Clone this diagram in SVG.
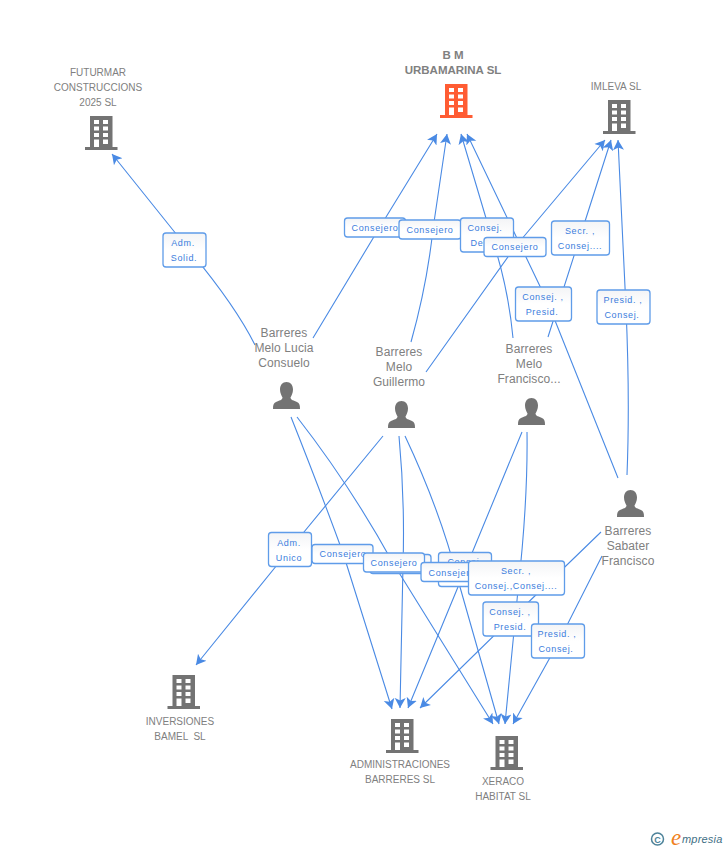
<svg xmlns="http://www.w3.org/2000/svg" width="728" height="850" viewBox="0 0 728 850">
<style>
text{font-family:"Liberation Sans",Arial,sans-serif}
.n{font-size:10px;fill:#808080;text-anchor:middle;white-space:pre}
.p{font-size:12px;fill:#808080;text-anchor:middle;letter-spacing:.1px}
.b{font-size:11.500px;font-weight:bold;fill:#808080;text-anchor:middle}
.l{font-size:9px;fill:#3b7ddd;text-anchor:middle;letter-spacing:.65px}
.e{fill:none;stroke:#4a8ae4;stroke-width:1.1;marker-end:url(#a)}
.r{fill:url(#g);stroke:#5f9ce9;stroke-width:1.3}
</style>
<defs>
<linearGradient id="g" x1="0" y1="0" x2="0" y2="1"><stop offset="0" stop-color="#f3f4f6"/><stop offset=".5" stop-color="#ffffff"/></linearGradient>
<marker id="a" markerUnits="userSpaceOnUse" markerWidth="14" markerHeight="14" refX="10" refY="6" orient="auto"><path d="M10,6 L0,0.500 L2.500,6 L0,11.500 Z" fill="#4a8ae4"/></marker>
<path id="bld" fill-rule="evenodd" d="M0,0H22.500V31H27.500V34H-5V31H0ZM4,4V8H9V4ZM13,4V8H18V4ZM4,10.500V14.500H9V10.500ZM13,10.500V14.500H18V10.500ZM4,17V21H9V17ZM13,17V21H18V17ZM4,23.500V31H9V23.500ZM13,23.500V28H18V23.500Z"/>
<path id="per" d="M13.500,0C17.500,0 20,3 20,7.500C20,11 18.500,13.500 17.500,15.500C17.500,18 21,18.500 24,20C26.500,21 27,23 27,27H0C0,23 .5,21 3,20C6,18.500 9.500,18 9.500,15.500C8.500,13.500 7,11 7,7.500C7,3 9.500,0 13.500,0Z"/>
</defs>
<g id="connectors">
<path class="e" d="M255,345 Q235,305 189,250 L112,154"/>
<path class="e" d="M313,338 L375,235 L437,134"/>
<path class="e" d="M411,342 Q427,285 433,229 L447,134"/>
<path class="e" d="M513,338 Q508,285 491,235 L461,134"/>
<path class="e" d="M618,478 Q585,395 548,303 L467,134"/>
<path class="e" d="M426,372 L515,247 L605,140"/>
<path class="e" d="M548,337 L580,237 L611,140"/>
<path class="e" d="M627,475 Q630,400 626,308 L618,140"/>
<path class="e" d="M383,436 L290,549 L196,665"/>
<path class="e" d="M291,417 Q320,490 343,553 L392,709"/>
<path class="e" d="M297,417 Q350,485 393,563 L493,724"/>
<path class="e" d="M399,436 Q405,500 403,565 L400,708"/>
<path class="e" d="M405,436 Q440,510 458,580 L499,724"/>
<path class="e" d="M522,432 L465,570 L408,708"/>
<path class="e" d="M527,432 Q528,500 518,590 L505,724"/>
<path class="e" d="M601,532 L510,620 L420,708"/>
<path class="e" d="M602,556 L557,645 L513,724"/>
</g>
<g id="edge-labels">
<rect class="r" x="163" y="233" width="43" height="34" rx="3"/><text class="l" x="183" y="246">Adm.</text><text class="l" x="184" y="261">Solid.</text>
<rect class="r" x="344.500" y="218" width="61" height="19" rx="3"/><text class="l" x="375" y="231">Consejero</text>
<rect class="r" x="399" y="220" width="62" height="19" rx="3"/><text class="l" x="430" y="233">Consejero</text>
<rect class="r" x="460.500" y="218" width="53" height="34" rx="3"/><text class="l" x="485" y="231">Consej.</text><text class="l" x="477" y="246">De</text>
<rect class="r" x="484" y="237.500" width="62" height="19" rx="3"/><text class="l" x="515" y="250">Consejero</text>
<rect class="r" x="551.500" y="221" width="58" height="34" rx="3"/><text class="l" x="580" y="234">Secr. ,</text><text class="l" x="580" y="249">Consej....</text>
<rect class="r" x="515.500" y="287" width="56" height="34" rx="3"/><text class="l" x="543" y="300">Consej. ,</text><text class="l" x="542" y="315">Presid.</text>
<rect class="r" x="597" y="290" width="53" height="34" rx="3"/><text class="l" x="623" y="303">Presid. ,</text><text class="l" x="622" y="318">Consej.</text>
<rect class="r" x="268.500" y="532.500" width="43" height="34" rx="3"/><text class="l" x="289" y="546">Adm.</text><text class="l" x="289" y="561">Unico</text>
<rect class="r" x="312" y="544.500" width="61" height="19" rx="3"/><text class="l" x="343" y="557">Consejero</text>
<rect class="r" x="370" y="554.500" width="61" height="19" rx="3"/>
<rect class="r" x="363.500" y="553" width="61" height="19" rx="3"/><text class="l" x="394" y="566">Consejero</text>
<rect class="r" x="438.500" y="552.500" width="53" height="34" rx="3"/><text class="l" x="465" y="565">Consej.</text>
<rect class="r" x="421" y="562.500" width="62" height="19" rx="3"/><text class="l" x="452" y="576">Consejero</text>
<rect class="r" x="468.500" y="561" width="96" height="34" rx="3"/><text class="l" x="516" y="574">Secr. ,</text><text class="l" x="516" y="589">Consej.,Consej....</text>
<rect class="r" x="483" y="602" width="55.500" height="34" rx="3"/><text class="l" x="510" y="615">Consej. ,</text><text class="l" x="510" y="630">Presid.</text>
<rect class="r" x="531.500" y="624" width="53" height="34" rx="3"/><text class="l" x="557" y="637">Presid. ,</text><text class="l" x="556" y="652">Consej.</text>
</g>
<g id="futurmar"><text class="n" x="98" y="76">FUTURMAR</text><text class="n" x="98" y="91">CONSTRUCCIONS</text><text class="n" x="98" y="106">2025 SL</text><use href="#bld" x="90" y="116" fill="#737373"/></g>
<g id="urbamarina"><text class="b" x="453" y="59">B M</text><text class="b" x="453" y="74">URBAMARINA SL</text><use href="#bld" x="445" y="84" fill="#ff5c33"/></g>
<g id="imleva"><text class="n" x="616" y="90">IMLEVA SL</text><use href="#bld" x="608" y="100" fill="#737373"/></g>
<g id="lucia"><text class="p" x="284" y="337">Barreres</text><text class="p" x="284" y="352">Melo Lucia</text><text class="p" x="284" y="367">Consuelo</text><use href="#per" x="273" y="382" fill="#737373"/></g>
<g id="guillermo"><text class="p" x="399" y="356">Barreres</text><text class="p" x="399" y="371">Melo</text><text class="p" x="399" y="386">Guillermo</text><use href="#per" x="388" y="401" fill="#737373"/></g>
<g id="francisco"><text class="p" x="529" y="353">Barreres</text><text class="p" x="529" y="368">Melo</text><text class="p" x="529" y="383">Francisco...</text><use href="#per" x="518" y="398" fill="#737373"/></g>
<g id="sabater"><text class="p" x="628" y="535">Barreres</text><text class="p" x="628" y="550">Sabater</text><text class="p" x="628" y="565">Francisco</text><use href="#per" x="617" y="490" fill="#737373"/></g>
<g id="bamel"><use href="#bld" x="172.500" y="675" fill="#737373"/><text class="n" x="180" y="725">INVERSIONES</text><text class="n" x="180" y="740">BAMEL  SL</text></g>
<g id="administraciones"><use href="#bld" x="391" y="719" fill="#737373"/><text class="n" x="400" y="768">ADMINISTRACIONES</text><text class="n" x="400" y="783">BARRERES SL</text></g>
<g id="xeraco"><use href="#bld" x="495.500" y="736" fill="#737373"/><text class="n" x="503" y="785">XERACO</text><text class="n" x="503" y="800">HABITAT SL</text></g>
<g id="logo"><circle cx="657.500" cy="839" r="6" fill="none" stroke="#4d8299" stroke-width="1.500"/><text x="657.500" y="842.500" font-size="9" font-weight="bold" fill="#4d8299" text-anchor="middle">C</text><text x="671" y="844.500" font-size="23" font-style="italic" fill="#f08020" style="font-family:'Liberation Serif',serif">e</text><text x="682" y="843" font-size="11" font-style="italic" fill="#3f6f85" letter-spacing=".2">mpresia</text></g>
</svg>
